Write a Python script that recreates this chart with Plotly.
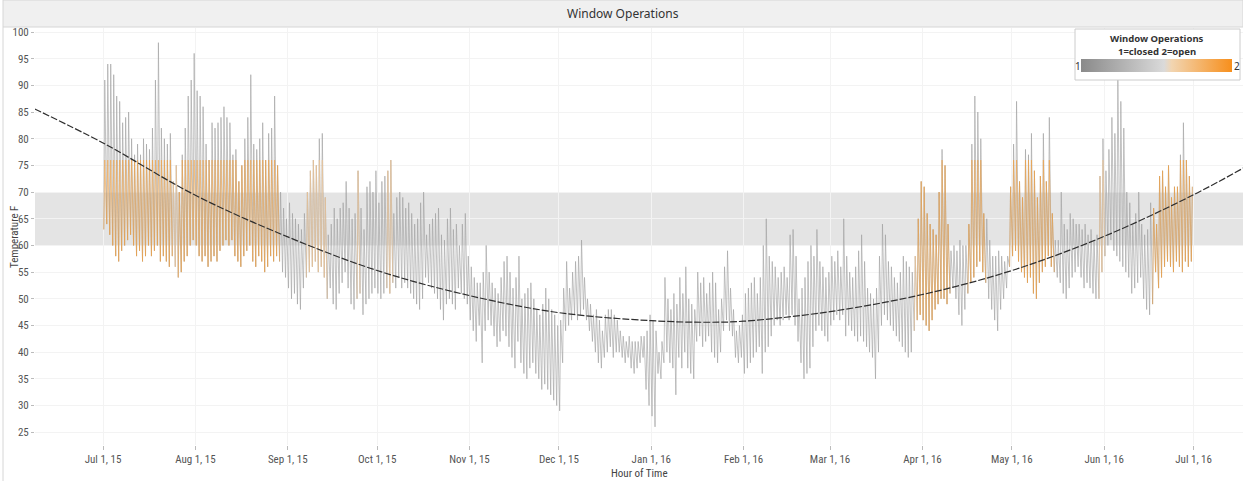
import pandas as pd
import plotly.graph_objects as go

# daily high / low temperature (F), Jul 1 2015 .. Jun 30 2016
HI = [
    91, 94, 94, 92, 88, 87, 83, 84, 85, 80, 77, 79, 77, 80, 79, 78, 82, 91, 98, 82,
    80, 79, 81, 72, 75, 70, 77, 82, 88, 91, 96, 89, 88, 86, 79, 76, 83, 82, 83, 84,
    86, 84, 83, 77, 78, 72, 75, 80, 84, 92, 79, 78, 80, 83, 76, 81, 82, 88, 75, 70,
    67, 65, 68, 66, 65, 64, 63, 66, 70, 74, 76, 75, 80, 81, 69, 62, 64, 67, 65, 67,
    68, 72, 67, 65, 66, 74, 67, 63, 71, 72, 70, 74, 68, 72, 73, 74, 76, 66, 69, 70,
    69, 67, 68, 66, 64, 65, 68, 70, 62, 64, 65, 66, 67, 62, 61, 65, 67, 63, 64, 60,
    64, 66, 58, 56, 54, 53, 53, 55, 60, 55, 53, 52, 51, 54, 57, 58, 55, 52, 54, 58,
    50, 51, 52, 53, 50, 48, 47, 49, 52, 50, 48, 47, 45, 46, 52, 57, 52, 55, 57, 58,
    61, 54, 50, 49, 47, 48, 46, 44, 47, 48, 48, 47, 46, 44, 43, 42, 43, 42, 42, 42,
    43, 43, 44, 47, 46, 44, 40, 42, 54, 50, 48, 51, 49, 54, 51, 56, 50, 49, 48, 55,
    53, 54, 51, 53, 55, 53, 48, 50, 56, 59, 52, 48, 44, 45, 47, 51, 52, 53, 54, 51,
    54, 60, 65, 58, 57, 56, 54, 55, 56, 54, 62, 63, 58, 50, 52, 54, 57, 60, 58, 63,
    57, 56, 54, 55, 58, 57, 59, 56, 65, 58, 55, 54, 56, 59, 62, 57, 52, 51, 50, 52,
    58, 64, 62, 57, 56, 54, 53, 55, 58, 57, 56, 55, 58, 65, 72, 71, 66, 64, 63, 62,
    70, 78, 75, 64, 59, 60, 59, 61, 60, 60, 64, 79, 88, 85, 80, 66, 65, 61, 58, 58,
    59, 58, 57, 58, 71, 79, 87, 72, 69, 78, 77, 81, 74, 69, 73, 81, 72, 84, 66, 61,
    61, 70, 64, 63, 66, 65, 64, 64, 63, 64, 62, 63, 61, 62, 73, 80, 74, 78, 84, 81,
    92, 87, 82, 70, 68, 64, 66, 70, 64, 62, 63, 68, 67, 64, 73, 74, 71, 75, 69, 71,
    71, 77, 83, 76, 73, 71,
]
LO = [
    63, 64, 62, 60, 58, 57, 59, 60, 61, 62, 60, 58, 59, 57, 58, 60, 58, 59, 60, 57,
    58, 57, 56, 58, 56, 54, 55, 57, 58, 60, 61, 60, 58, 57, 58, 56, 57, 58, 57, 59,
    60, 61, 60, 61, 58, 57, 56, 58, 59, 60, 57, 56, 58, 57, 55, 56, 58, 57, 58, 57,
    55, 54, 52, 50, 51, 49, 48, 52, 54, 55, 56, 57, 55, 56, 54, 50, 52, 49, 48, 51,
    53, 55, 52, 49, 48, 50, 51, 47, 49, 50, 51, 52, 51, 50, 51, 52, 51, 53, 52, 54,
    52, 53, 52, 51, 50, 49, 48, 50, 54, 53, 52, 51, 50, 48, 46, 49, 50, 49, 48, 52,
    51, 50, 49, 46, 44, 42, 45, 38, 44, 46, 45, 43, 41, 42, 44, 43, 41, 39, 37, 42,
    38, 36, 35, 37, 38, 36, 35, 33, 34, 33, 32, 31, 30, 29, 38, 44, 45, 46, 47, 46,
    47, 48, 46, 44, 42, 40, 38, 37, 39, 40, 41, 39, 40, 40, 39, 38, 39, 37, 36, 37,
    38, 39, 33, 30, 28, 26, 36, 35, 38, 40, 38, 37, 32, 39, 37, 40, 37, 36, 35, 42,
    43, 41, 42, 43, 40, 39, 38, 40, 44, 46, 44, 43, 39, 38, 39, 36, 37, 38, 39, 40,
    41, 36, 40, 41, 43, 45, 46, 45, 46, 47, 46, 47, 45, 42, 38, 35, 36, 37, 41, 44,
    45, 44, 43, 42, 45, 46, 47, 46, 47, 43, 45, 44, 43, 42, 43, 42, 41, 40, 39, 35,
    40, 45, 47, 46, 45, 44, 43, 42, 41, 40, 39, 40, 44, 46, 47, 46, 45, 44, 46, 48,
    49, 50, 50, 49, 51, 52, 50, 47, 45, 48, 51, 53, 54, 56, 57, 55, 53, 50, 48, 46,
    44, 48, 50, 52, 56, 58, 59, 57, 55, 54, 53, 54, 51, 50, 53, 55, 56, 58, 56, 55,
    54, 53, 51, 50, 52, 54, 55, 56, 54, 52, 53, 52, 51, 50, 50, 55, 58, 60, 61, 59,
    58, 57, 56, 55, 54, 51, 52, 53, 54, 50, 48, 47, 49, 55, 52, 54, 56, 57, 56, 55,
    57, 56, 55, 57, 56, 57,
]
# window operations (1=closed, 2=open), as runs of (value, number of days)
WINDOW_RUNS = [
    (2, 23), (1.5, 2), (2, 34), (1, 9), (1.5, 7), (1, 10), (1.5, 1), (1, 9),
    (1.5, 2), (1, 175), (1.5, 1), (2, 11), (1, 6), (2, 6), (1, 8), (2, 15),
    (1, 15), (1.5, 2), (1, 16), (2, 14),
]
# trend line read at a few dates
TREND_DATES = ["2015-06-08", "2015-07-01", "2015-08-01", "2015-09-01", "2015-10-01",
               "2015-11-01", "2015-12-01", "2016-01-01", "2016-01-20", "2016-02-01",
               "2016-03-01", "2016-04-01", "2016-05-01", "2016-06-01", "2016-07-01",
               "2016-07-18"]
TREND_TEMPS = [85.6, 79.2, 69.4, 61.6, 55.3, 50.6, 47.4, 45.9, 45.6, 45.8,
               47.6, 50.8, 55.3, 61.7, 69.5, 74.6]
Y_TICKS = list(range(25, 101, 5))

OPEN_MAX = 76   # windows are only open below about this temperature
GRAY = "#a3a3a3"
COLORS = {1.5: "rgba(240,196,148,0.9)", 2: "rgba(243,160,64,0.85)"}
WO_SCALE = [[0, "#8a8a8a"], [0.55, "#dadada"], [0.6, "#f2d5b1"], [1, "#f78f1c"]]
FONT = "Noto Sans, Open Sans, sans-serif"
TICK_FONT = "Liberation Sans Narrow, Roboto Condensed, Noto Sans, sans-serif"

# plot box in pixels
PL, PR, PT, PB = 35, 1243, 28, 445
def px(x):
    return (x - PL) / (PR - PL)
def py(y):
    return (PB - y) / (PB - PT)

status = []
for v, n in WINDOW_RUNS:
    status += [v] * n

days = pd.date_range("2015-07-01", periods=len(HI), freq="D")
t_lo = days + pd.Timedelta(hours=6)
t_hi = days + pd.Timedelta(hours=14)

xs, ys = [], []
for i in range(len(days)):
    xs += [t_lo[i], t_hi[i]]
    ys += [LO[i], HI[i]]

fig = go.Figure()
fig.add_trace(go.Scatter(x=xs, y=ys, mode="lines", line=dict(color=GRAY, width=0.65),
                         hoverinfo="skip"))

for level, col in COLORS.items():
    ox, oy = [], []
    for i, s in enumerate(status):
        if s != level:
            continue
        ox += [t_lo[i], t_hi[i]]
        oy += [LO[i], min(HI[i], OPEN_MAX)]
        if i + 1 < len(days):
            ox.append(t_lo[i + 1])
            oy.append(LO[i + 1])
        ox.append(None)
        oy.append(None)
    fig.add_trace(go.Scatter(x=ox, y=oy, mode="lines", line=dict(color=col, width=0.65),
                             hoverinfo="skip"))

fig.add_trace(go.Scatter(x=TREND_DATES, y=TREND_TEMPS, mode="lines",
                         line=dict(color="#2e2e2e", width=1.2, dash="7px,2px", shape="spline"),
                         hoverinfo="skip"))

# dummy trace carrying the colour legend
fig.add_trace(go.Scatter(
    x=[None], y=[None], mode="markers",
    marker=dict(color=[1.5], cmin=1, cmax=2, colorscale=WO_SCALE, showscale=True,
                colorbar=dict(orientation="h", x=px(1081), xanchor="left", y=py(59),
                              yanchor="top", len=151, lenmode="pixels", thickness=13,
                              thicknessmode="pixels", showticklabels=False, ticks="",
                              outlinewidth=0, xpad=0, ypad=0)),
    hoverinfo="skip"))

shapes = [
    dict(type="rect", xref="paper", yref="y", x0=0, x1=1, y0=60, y1=70,
         fillcolor="#e4e4e4", line_width=0, layer="below"),
    dict(type="rect", xref="paper", yref="paper", x0=px(3), x1=px(1243), y0=py(27), y1=py(0),
         fillcolor="#f0f0f0", line=dict(color="#d6d6d6", width=1)),
    dict(type="line", xref="paper", yref="paper", x0=px(3), x1=px(3), y0=py(481), y1=py(27),
         line=dict(color="#d6d6d6", width=1)),
    dict(type="rect", xref="paper", yref="paper", x0=px(1075), x1=px(1240), y0=py(80), y1=py(29),
         fillcolor="white", line=dict(color="#cccccc", width=1)),
]

def note(text, x, y, size=11, color="#444444", family=FONT, **kw):
    return dict(text=text, x=px(x), y=py(y), xref="paper", yref="paper",
                xanchor="center", yanchor="middle", showarrow=False,
                font=dict(size=size, color=color, family=family), **kw)

annotations = [
    note("Window Operations", 623, 14, size=12, color="#333333"),
    note("Temperature F", 14, 237, textangle=-90, family=TICK_FONT),
    note("Hour of Time", 639, 473, family=TICK_FONT),
    note("<b>Window Operations</b>", 1157, 39, size=9.5, color="#333333"),
    note("<b>1=closed 2=open</b>", 1157, 51, size=9.5, color="#333333"),
    note("1", 1078, 66, size=10, color="#333333"),
    note("2", 1237, 66, size=10, color="#333333"),
]

fig.update_layout(
    width=1243, height=481,
    margin=dict(l=PL, r=1243 - PR, t=PT, b=481 - PB, autoexpand=False),
    paper_bgcolor="white", plot_bgcolor="white",
    showlegend=False,
    font=dict(family=FONT, size=11, color="#555555"),
    shapes=shapes, annotations=annotations,
    xaxis=dict(type="date", range=["2015-06-08 04:00", "2016-07-17 14:00"],
               tick0="2015-07-01", dtick="M1", tickformat="%b %-d, %y",
               ticks="outside", ticklen=4, tickcolor="#bbbbbb", automargin=False,
               showgrid=True, gridcolor="#f3f3f3", zeroline=False, showline=False,
               tickfont=dict(size=11, color="#555555", family=TICK_FONT)),
    yaxis=dict(range=[22.6, 100.75], tickvals=Y_TICKS, ticks="outside", ticklen=3,
               tickcolor="#bbbbbb", showgrid=True, gridcolor="#f3f3f3", automargin=False,
               zeroline=False, showline=False,
               tickfont=dict(size=11, color="#555555", family=TICK_FONT)),
)

# drop the browser's default page margin so the figure sits at the top-left corner
fig.write_html("out.html", config={"displayModeBar": False},
               post_script="document.body.style.margin='0';")
